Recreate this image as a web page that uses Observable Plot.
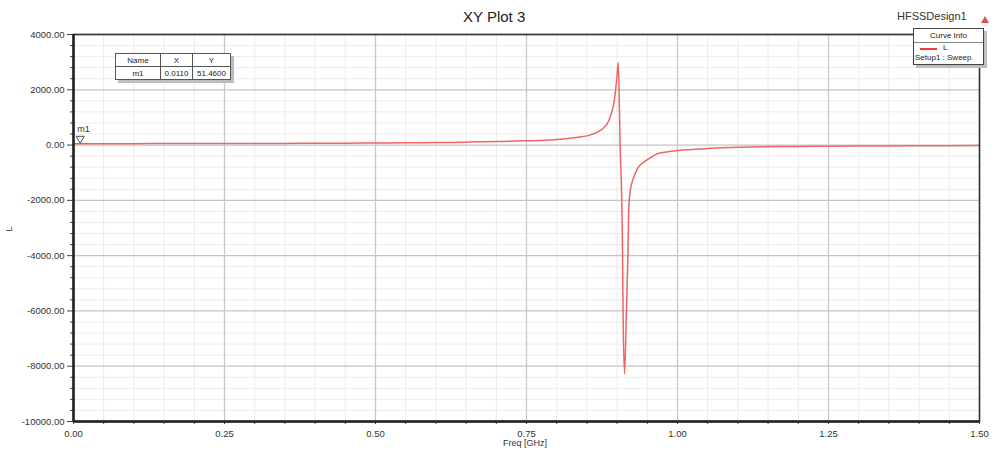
<!DOCTYPE html>
<html>
<head>
<meta charset="utf-8">
<script src="https://cdn.jsdelivr.net/npm/d3@7"></script>
<script src="https://cdn.jsdelivr.net/npm/@observablehq/plot@0.6"></script>
<style>
  html, body { margin: 0; padding: 0; background: #fff; }
  #wrap { position: relative; width: 996px; height: 457px; font-family: "Liberation Sans", Arial, sans-serif; color: #222; }
  .abs { position: absolute; white-space: nowrap; }
  .box { position: absolute; background: #fff; border: 1px solid #444; box-shadow: 3px 3px 0 #bdbdbd; }
  table.mk { border-collapse: collapse; font-size: 8px; }
  table.mk td { border: 1px solid #555; text-align: center; height: 12px; padding: 0 2px; }
</style>
</head>
<body>
<div id="wrap"></div>
<script>
// ---- data ----
const freq = [0, 0.05, 0.1, 0.15, 0.2, 0.25, 0.3, 0.35, 0.4, 0.45, 0.5, 0.55, 0.6, 0.65, 0.7, 0.75, 0.773, 0.801, 0.828, 0.856, 0.8725, 0.878, 0.8835, 0.888, 0.8918, 0.895, 0.8974, 0.8995, 0.9018, 0.905, 0.9087, 0.910, 0.9123, 0.9156, 0.9177, 0.9194, 0.922, 0.9277, 0.9333, 0.9443, 0.95, 0.956, 0.9664, 0.976, 0.987, 1.002, 1.02, 1.05, 1.104, 1.2, 1.3, 1.4, 1.5];
const Lval = [51.46, 51.6, 52, 53, 54, 56, 58, 61, 64, 68, 74, 82, 92, 106, 128, 155, 168, 200, 265, 370, 530, 630, 770, 980, 1250, 1550, 1975, 2400, 3000, 0, -3330, -6225, -8275, -5860, -4175, -2245, -1640, -1160, -860, -620, -530, -450, -315, -270, -230, -195, -165, -120, -75, -50, -35, -25, -18];
const xMajor = [0, 0.25, 0.5, 0.75, 1.0, 1.25, 1.5];
const xMinor = [0.05,0.1,0.15,0.2,0.3,0.35,0.4,0.45,0.55,0.6,0.65,0.7,0.8,0.85,0.9,0.95,1.05,1.1,1.15,1.2,1.3,1.35,1.4,1.45];
const yMajor = [-10000, -8000, -6000, -4000, -2000, 0, 2000, 4000];
const yMinor = [-9600,-9200,-8800,-8400,-7600,-7200,-6800,-6400,-5600,-5200,-4800,-4400,-3600,-3200,-2800,-2400,-1600,-1200,-800,-400,400,800,1200,1600,2400,2800,3200,3600];
const marker = [{name: "m1", f: 0.011, v: 51.46}];

const data = freq.map((f, i) => ({f, v: Lval[i]}));
const fmt = d => d.toFixed(2);
const allX = xMajor.concat(xMinor);

const chart = Plot.plot({
  width: 996, height: 457,
  marginLeft: 73, marginRight: 17, marginTop: 34, marginBottom: 36,
  style: {fontFamily: '"Liberation Sans", Arial, sans-serif', background: "#fff", color: "#333"},
  x: {domain: [0, 1.5], label: null},
  y: {domain: [-10000, 4000], label: null},
  marks: [
    Plot.ruleX(xMinor, {stroke: "#ececec", strokeWidth: 1}),
    Plot.ruleY(yMinor, {stroke: "#ececec", strokeWidth: 1}),
    Plot.ruleX(xMajor, {stroke: "#c9c9c9", strokeWidth: 1.3}),
    Plot.ruleY(yMajor, {stroke: "#c4c4c4", strokeWidth: 1.3}),
    Plot.axisY({ticks: yMajor, tickSize: 6, tickPadding: 3, tickFormat: fmt, fontSize: 9.5, stroke: "#444", label: null}),
    Plot.axisY({ticks: yMinor, tickSize: 3, tickFormat: null, text: null, stroke: "#444", label: null}),
    Plot.axisX({ticks: allX, tickSize: 3, text: null, stroke: "#444", label: null}),
    Plot.axisX({ticks: xMajor, tickSize: 0, tickPadding: 9, tickFormat: fmt, fontSize: 9.5, label: null}),
    Plot.line(data, {x: "f", y: "v", stroke: "#f26464", strokeWidth: 1.5, curve: "monotone-x"}),
    Plot.dot(marker, {x: "f", y: "v", symbol: "triangle", rotate: 180, r: 3, dy: -5, stroke: "#555", fill: "none", strokeWidth: 1}),
    Plot.text(marker, {x: "f", y: "v", text: "name", dy: -15, dx: -3, textAnchor: "start", fontSize: 9, fill: "#333"}),
    Plot.frame({stroke: "#333", strokeWidth: 1.6}),
    Plot.ruleX([0], {stroke: "#222", strokeWidth: 2.5}),
    Plot.ruleY([-10000], {stroke: "#222", strokeWidth: 2.5})
  ]
});

const wrap = document.getElementById("wrap");
wrap.appendChild(chart);

function add(html, style) {
  const d = document.createElement("div");
  d.className = "abs";
  d.innerHTML = html;
  Object.assign(d.style, style);
  wrap.appendChild(d);
  return d;
}
// title & labels
add("XY Plot 3", {left: "463px", top: "8px", fontSize: "15px", color: "#222"});
add("HFSSDesign1", {left: "897px", top: "10px", fontSize: "11px", color: "#333"});
add('<svg width="10" height="9"><polygon points="5,1 9,8 1,8" fill="#d9534f"/></svg>', {left: "980px", top: "10px"});
add("Freq [GHz]", {left: "503px", top: "438px", fontSize: "9px", color: "#333"});
add("L", {left: "6px", top: "224px", fontSize: "9px", color: "#333", transform: "rotate(-90deg)"});

// marker table
const mt = document.createElement("div");
mt.className = "box";
Object.assign(mt.style, {left: "115px", top: "53px", border: "none"});
mt.innerHTML = `<table class="mk">
<tr><td style="width:40px">Name</td><td style="width:27px">X</td><td style="width:33px">Y</td></tr>
<tr><td>${marker[0].name}</td><td>${marker[0].f.toFixed(4)}</td><td>${marker[0].v.toFixed(4)}</td></tr></table>`;
wrap.appendChild(mt);

// legend box
const lg = document.createElement("div");
lg.className = "box";
Object.assign(lg.style, {left: "913px", top: "28px", width: "69px", height: "35px", fontSize: "8px"});
lg.innerHTML = `<div style="text-align:center;border-bottom:1px solid #888;height:13px;line-height:13px">Curve Info</div>
<div style="height:10px;line-height:10px;position:relative"><span style="position:absolute;left:6px;top:5px;width:17px;height:1.5px;background:#f03c3c"></span><span style="position:absolute;left:29px">L</span></div>
<div style="height:10px;line-height:10px;padding-left:1px">Setup1 : Sweep</div>`;
wrap.appendChild(lg);
</script>
</body>
</html>
